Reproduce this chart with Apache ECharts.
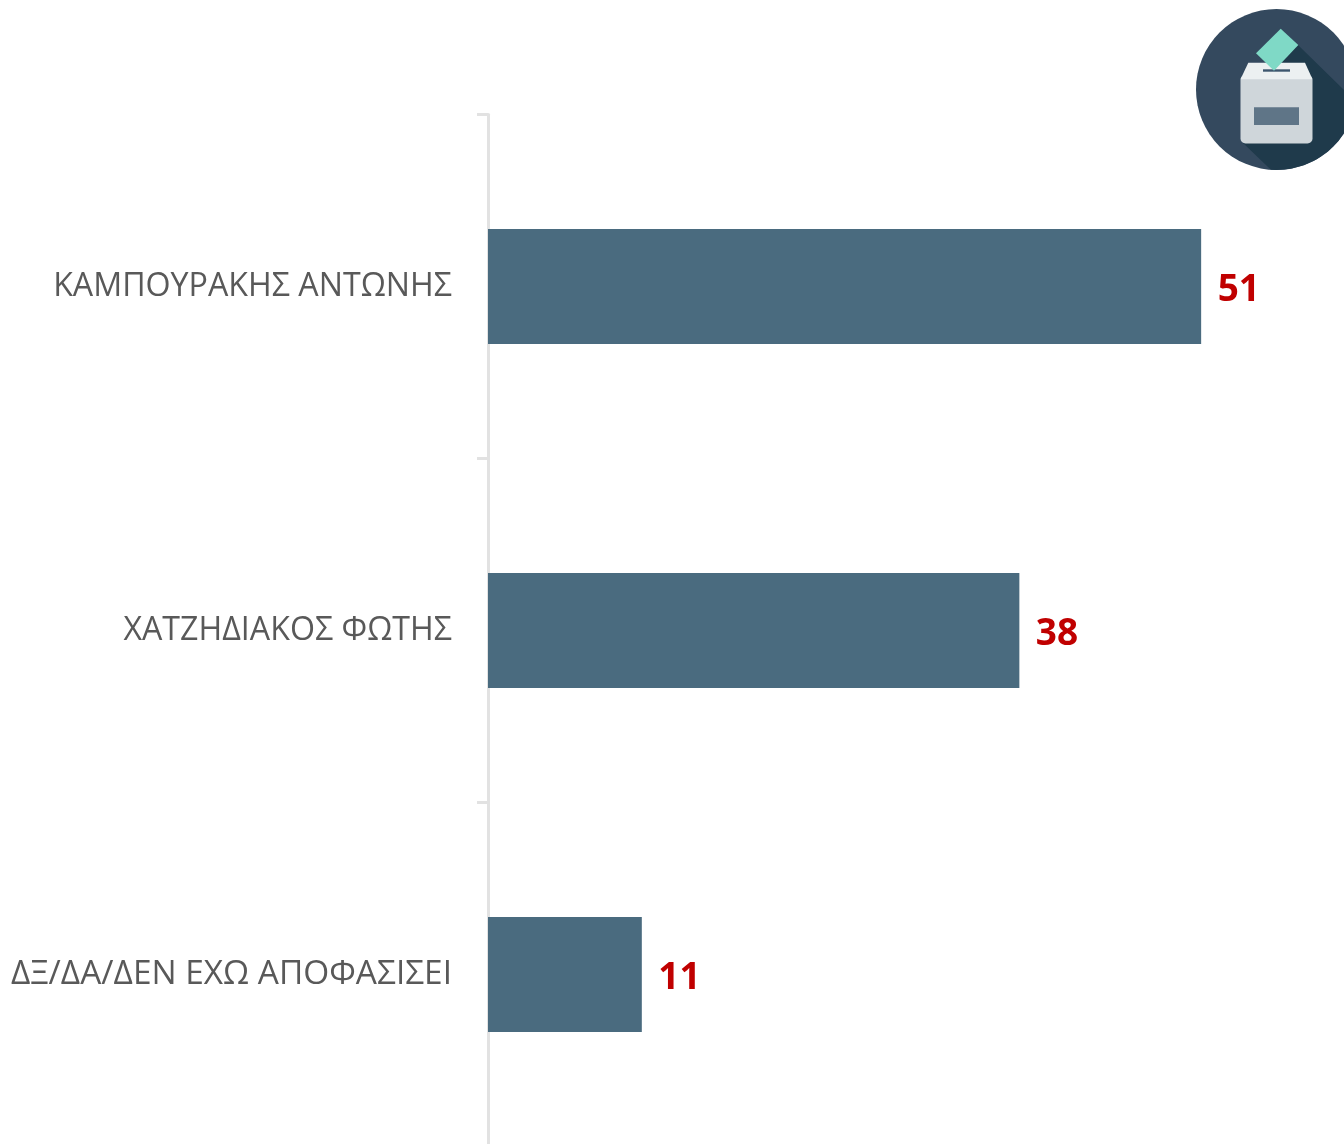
<!DOCTYPE html>
<html><head><meta charset="utf-8">
<style>html,body{margin:0;padding:0;background:#fff;overflow:hidden}#c{width:1344px;height:1144px}</style>
<script src="https://cdn.jsdelivr.net/npm/echarts@6/dist/echarts.min.js"></script>
</head><body><div id="c"></div>
<script>
const categories = ['ΚΑΜΠΟΥΡΑΚΗΣ ΑΝΤΩΝΗΣ', 'ΧΑΤΖΗΔΙΑΚΟΣ ΦΩΤΗΣ', 'ΔΞ/ΔΑ/ΔΕΝ ΕΧΩ ΑΠΟΦΑΣΙΣΕΙ'];
const values = [51, 38, 11];

// Long-shadow outline of the ballot-box icon, following the circle's edge
const cx = 1276.5, cy = 89.5, r = 80.5;
const shadow = [[1298, 45], [1344, 90], [1344, 133]];
for (const deg of [30, 40, 50, 60, 70, 80, 90, 94]) {
  const a = deg * Math.PI / 180;
  shadow.push([cx + r * Math.cos(a), cy + r * Math.sin(a)]);
}
shadow.push([1243, 143], [1243, 80], [1274, 70]);

const chart = echarts.init(document.getElementById('c'), null, {renderer: 'canvas'});
chart.setOption({
  animation: false,
  backgroundColor: '#fff',
  grid: {left: 488, right: 17, top: 114.6, height: 1032, outerBoundsMode: 'none', containLabel: false},
  xAxis: {type: 'value', min: 0, max: 60, show: false},
  yAxis: {
    type: 'category', inverse: true, offset: 3,
    data: categories.map((c, i) => i === 2 ? {value: c, textStyle: {fontSize: 33.4}} : c),
    axisLine: {show: true, lineStyle: {color: '#e2e2e2', width: 3}},
    axisTick: {show: true, length: 11, lineStyle: {color: '#e2e2e2', width: 3}},
    axisLabel: {color: '#595959', fontFamily: 'Open Sans', fontSize: 32.2, margin: 33, padding: [7, 0, 0, 0]}
  },
  series: [{
    type: 'bar', data: values, barWidth: 115,
    itemStyle: {color: '#4a6b7f'},
    label: {show: true, position: 'right', distance: 16.5, offset: [0, 4],
      color: '#c00000', fontFamily: 'Open Sans', fontWeight: 'bold', fontSize: 37}
  }],
  graphic: [
    {type: 'circle', shape: {cx, cy, r}, style: {fill: '#34495e'}, silent: true},
    {type: 'polygon', shape: {points: shadow}, style: {fill: '#1f3a4b'}, silent: true},
    {type: 'rect', shape: {x: 1240.5, y: 75, width: 72, height: 68.5, r: 5}, style: {fill: '#cfd6da'}, silent: true},
    {type: 'polygon', shape: {points: [[1248.3, 62.7], [1305, 62.7], [1312.5, 79.3], [1240.5, 79.3]]}, style: {fill: '#ecf0f1'}, silent: true},
    {type: 'rect', shape: {x: 1254, y: 107.3, width: 45, height: 17.7}, style: {fill: '#5f7587'}, silent: true},
    {type: 'rect', shape: {x: 1263, y: 69.3, width: 27, height: 2.4}, style: {fill: '#3d566e'}, silent: true},
    {type: 'polygon', shape: {points: [[1280.7, 28.7], [1298.3, 45], [1274, 70.7], [1256, 53.3]]}, style: {fill: '#7fd9c6'}, silent: true}
  ]
});
</script></body></html>
